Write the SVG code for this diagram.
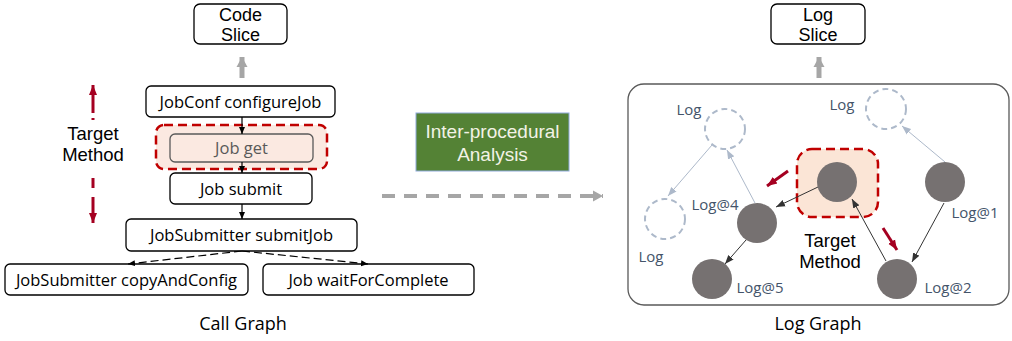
<svg xmlns="http://www.w3.org/2000/svg" width="1012" height="341" viewBox="0 0 1012 341">
<defs>
<style>
.t{font-family:"Open Sans","Noto Sans","DejaVu Sans",sans-serif;fill:#000;}
.m{font-family:"Liberation Sans",Arial,sans-serif;fill:#000;text-anchor:middle;}
.box{fill:#fff;stroke:#000;stroke-width:1.3;}
.c{font-size:16.5px;text-anchor:middle;}
.lab{font-family:"Open Sans","Noto Sans",sans-serif;font-size:15px;fill:#44546A;}
.dc{fill:none;stroke:#ADB9CA;stroke-width:2;stroke-dasharray:6 4;}
.node{fill:#767171;}
.red{stroke:#A50021;stroke-width:3;fill:none;}
</style>
<marker id="ab" markerWidth="8" markerHeight="8" refX="7" refY="4" orient="auto" markerUnits="userSpaceOnUse"><path d="M0,1 L7,4 L0,7 Z" fill="#000"/></marker>
<marker id="ad" markerWidth="10" markerHeight="10" refX="9" refY="5" orient="auto" markerUnits="userSpaceOnUse"><path d="M0,1.5 L9,5 L0,8.5 Z" fill="#333"/></marker>
<marker id="al" markerWidth="10" markerHeight="10" refX="9" refY="5" orient="auto" markerUnits="userSpaceOnUse"><path d="M0,1.5 L9,5 L0,8.5 Z" fill="#ADB9CA"/></marker>
<marker id="ar" markerWidth="12" markerHeight="12" refX="10" refY="6" orient="auto" markerUnits="userSpaceOnUse"><path d="M0,2 L10,6 L0,10 Z" fill="#A50021"/></marker>
<marker id="ag" markerWidth="14" markerHeight="14" refX="10" refY="7" orient="auto" markerUnits="userSpaceOnUse"><path d="M0,1.5 L10,7 L0,12.5 Z" fill="#A6A6A6"/></marker>
</defs>

<!-- Left: call graph -->
<g id="code-slice">
<rect class="box" x="194" y="4" width="93" height="40" rx="6"/>
<text class="m" font-size="18" x="240.5" y="20.5">Code</text>
<text class="m" font-size="18" x="240.5" y="41">Slice</text>
</g>
<g id="arrow-code-slice">
<line x1="242" y1="78" x2="242" y2="57" stroke="#A6A6A6" stroke-width="5" marker-end="url(#ag)"/>
</g>

<g id="target-method-left">
<text class="m" x="93" y="140" font-size="18.5">Target</text>
<text class="m" x="93" y="161" font-size="18.5">Method</text>
<line x1="93" y1="113" x2="93" y2="85" class="red" marker-end="url(#ar)"/>
<line x1="93" y1="118" x2="93" y2="120" class="red"/>
<line x1="93" y1="178" x2="93" y2="188" class="red"/>
<line x1="93" y1="197" x2="93" y2="223" class="red" marker-end="url(#ar)"/>
</g>

<g id="target-box-left">
<rect x="156" y="125" width="171" height="44" rx="8" fill="#FBE9E1" stroke="#C00000" stroke-width="2.5" stroke-dasharray="9 5"/>
</g>

<g id="jobconf">
<rect class="box" x="146" y="86" width="189" height="31" rx="5"/>
<text class="t c" x="240.5" y="107.5">JobConf configureJob</text>
</g>
<g id="jobget">
<rect x="170" y="134" width="143" height="28" rx="5" fill="#FBE9E1" stroke="#595959" stroke-width="1.3"/>
<text class="t c" x="241.5" y="154" style="fill:#595959">Job get</text>
</g>
<g id="jobsubmit">
<rect class="box" x="170" y="173" width="142" height="31" rx="5"/>
<text class="t c" x="241" y="194.5">Job submit</text>
</g>
<g id="submitjob">
<rect class="box" x="126" y="219" width="231" height="32" rx="5"/>
<text class="t c" x="241.5" y="241">JobSubmitter submitJob</text>
</g>
<g id="copyandconfig">
<rect class="box" x="5" y="264" width="243" height="31" rx="5"/>
<text class="t c" x="126.5" y="285.5">JobSubmitter copyAndConfig</text>
</g>
<g id="waitforcomplete">
<rect class="box" x="263" y="264" width="211" height="31" rx="5"/>
<text class="t c" x="368.5" y="285.5">Job waitForComplete</text>
</g>

<g id="call-edges" stroke="#000" stroke-width="1.2" fill="none">
<line x1="242" y1="117" x2="242" y2="134" marker-end="url(#ab)"/>
<line x1="242" y1="162" x2="242" y2="173" marker-end="url(#ab)"/>
<line x1="242" y1="204" x2="242" y2="219" marker-end="url(#ab)"/>
<line x1="242" y1="251" x2="128" y2="264" stroke-dasharray="8 4" marker-end="url(#ab)"/>
<line x1="242" y1="251" x2="368" y2="264" stroke-dasharray="8 4" marker-end="url(#ab)"/>
</g>

<text class="t" x="243" y="330" font-size="18" text-anchor="middle">Call Graph</text>

<!-- Middle -->
<g id="inter-procedural">
<rect x="416" y="113" width="153" height="58" fill="#548235" stroke="#8FAADC" stroke-width="1"/>
<text class="m" x="492.5" y="138" font-size="19" style="fill:#F2F2E6">Inter-procedural</text>
<text class="m" x="492.5" y="161" font-size="19" style="fill:#F2F2E6">Analysis</text>
</g>
<g id="analysis-arrow">
<line x1="382" y1="196" x2="603" y2="196" stroke="#A6A6A6" stroke-width="4" stroke-dasharray="13 9" marker-end="url(#ag)"/>
</g>

<!-- Right: log graph -->
<g id="log-slice">
<rect class="box" x="771" y="4" width="94" height="40" rx="6"/>
<text class="m" font-size="18" x="818" y="20.5">Log</text>
<text class="m" font-size="18" x="818" y="41">Slice</text>
</g>
<g id="arrow-log-slice">
<line x1="819" y1="78" x2="819" y2="57" stroke="#A6A6A6" stroke-width="5" marker-end="url(#ag)"/>
</g>

<g id="log-graph-frame">
<rect x="628" y="84" width="381" height="221" rx="16" fill="#fff" stroke="#595959" stroke-width="1.3"/>
</g>

<g id="target-box-right">
<rect x="797" y="149" width="81" height="68" rx="15" fill="#FBE5D6" stroke="#C00000" stroke-width="2.5" stroke-dasharray="9 5"/>
<text class="m" x="830" y="247" font-size="18.5">Target</text>
<text class="m" x="830" y="268" font-size="18.5">Method</text>
</g>

<g id="log-edges" fill="none">
<line x1="818" y1="187" x2="776" y2="207" stroke="#333" stroke-width="1" marker-end="url(#ad)"/>
<line x1="746" y1="240" x2="725" y2="264" stroke="#333" stroke-width="1" marker-end="url(#ad)"/>
<line x1="886" y1="261" x2="852" y2="199" stroke="#333" stroke-width="1" marker-end="url(#ad)"/>
<line x1="944" y1="203" x2="912" y2="262" stroke="#333" stroke-width="1" marker-end="url(#ad)"/>
<line x1="945" y1="162" x2="902" y2="126" stroke="#ADB9CA" stroke-width="1" marker-end="url(#al)"/>
<line x1="755" y1="203" x2="727" y2="150" stroke="#ADB9CA" stroke-width="1" marker-end="url(#al)"/>
<line x1="712" y1="145" x2="668" y2="196" stroke="#ADB9CA" stroke-width="1" marker-end="url(#al)"/>
<line x1="788" y1="171" x2="767" y2="186" class="red" marker-end="url(#ar)"/>
<line x1="883" y1="228" x2="897" y2="250" class="red" marker-end="url(#ar)"/>
</g>

<g id="log-top-left">
<circle class="dc" cx="725" cy="129" r="20"/>
<text class="lab" x="689" y="115" text-anchor="middle">Log</text>
</g>
<g id="log-top-right">
<circle class="dc" cx="886" cy="109" r="20"/>
<text class="lab" x="842" y="110" text-anchor="middle">Log</text>
</g>
<g id="log-bottom-left">
<circle class="dc" cx="665" cy="219" r="20"/>
<text class="lab" x="651" y="262" text-anchor="middle">Log</text>
</g>
<g id="node-target">
<circle class="node" cx="837" cy="182" r="20"/>
</g>
<g id="node-log1">
<circle class="node" cx="945" cy="182" r="20"/>
<text class="lab" x="975" y="218" text-anchor="middle">Log@1</text>
</g>
<g id="node-log4">
<circle class="node" cx="757" cy="223" r="20"/>
<text class="lab" x="715" y="210" text-anchor="middle">Log@4</text>
</g>
<g id="node-log5">
<circle class="node" cx="712" cy="279" r="20"/>
<text class="lab" x="760" y="293" text-anchor="middle">Log@5</text>
</g>
<g id="node-log2">
<circle class="node" cx="897" cy="279" r="20"/>
<text class="lab" x="948" y="293" text-anchor="middle">Log@2</text>
</g>

<text class="t" x="818" y="330" font-size="18" text-anchor="middle">Log Graph</text>
</svg>
